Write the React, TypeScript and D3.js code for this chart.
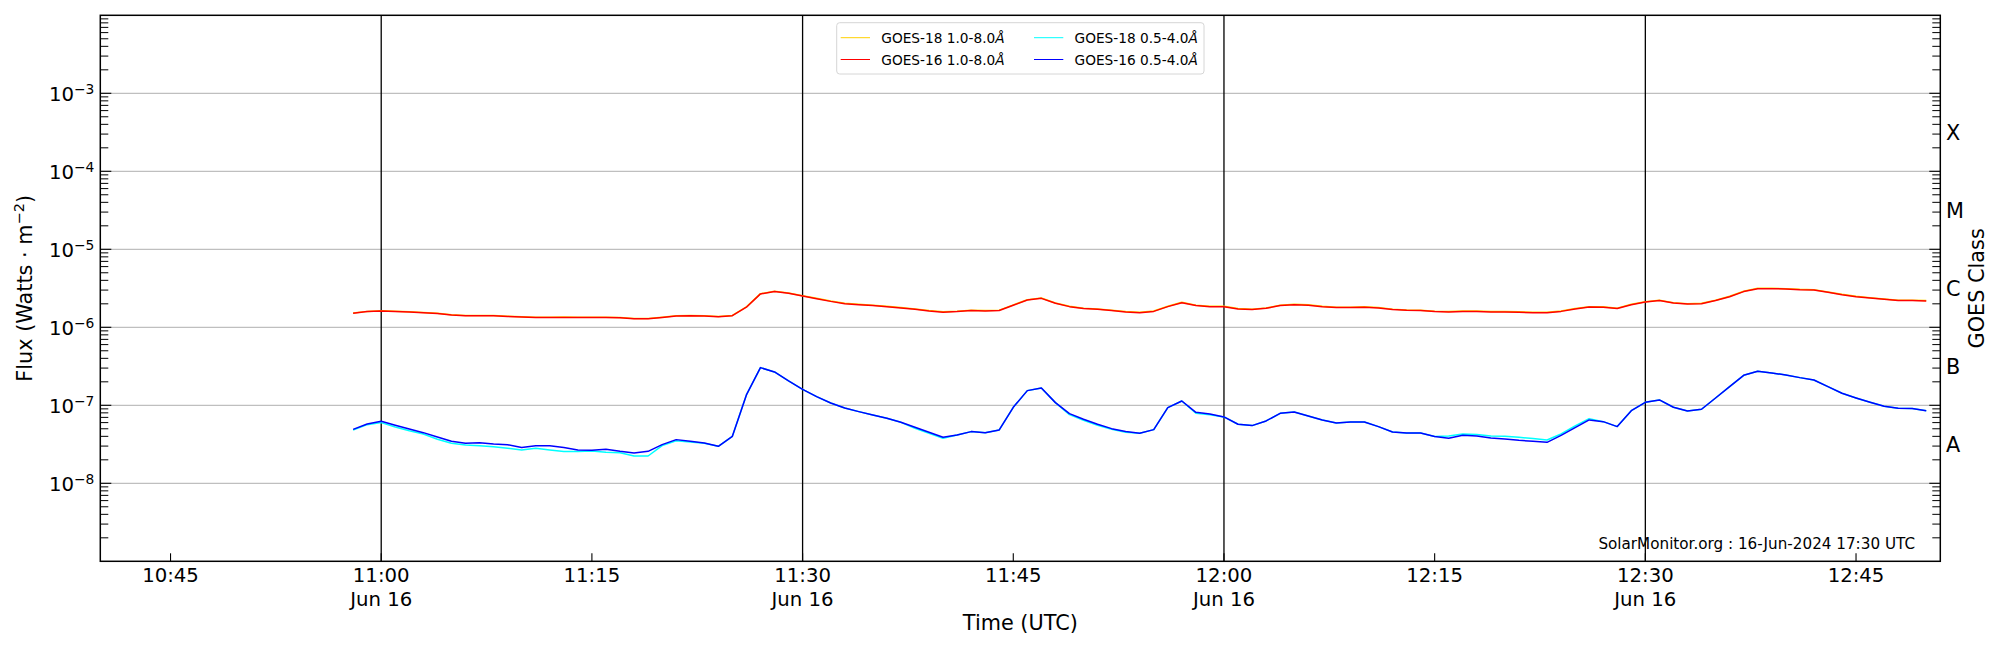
import React from "react";
import * as d3 from "d3";

// ---------- DATA ----------
const START_TIME = "2024-06-16T10:58:00Z"; // first sample, one sample per minute
const X_DOMAIN = ["2024-06-16T10:40:00Z", "2024-06-16T12:51:00Z"];

// GOES-16 1.0-8.0 Å (units of 1e-6 W/m^2)
const goes16Long = [
  1.51, 1.59, 1.62, 1.6, 1.57, 1.54, 1.5, 1.44, 1.41, 1.41,
  1.41, 1.38, 1.36, 1.34, 1.34, 1.34, 1.34, 1.34, 1.34, 1.33,
  1.29, 1.29, 1.34, 1.4, 1.41, 1.4, 1.37, 1.41, 1.81, 2.68,
  2.87, 2.73, 2.52, 2.33, 2.15, 2.01, 1.95, 1.9, 1.84, 1.77,
  1.7, 1.62, 1.56, 1.59, 1.64, 1.62, 1.64, 1.92, 2.24, 2.35,
  2.03, 1.84, 1.74, 1.7, 1.64, 1.57, 1.54, 1.6, 1.84, 2.07,
  1.9, 1.84, 1.84, 1.72, 1.69, 1.75, 1.9, 1.95, 1.92, 1.84,
  1.79, 1.79, 1.81, 1.77, 1.69, 1.65, 1.64, 1.59, 1.57, 1.6,
  1.6, 1.57, 1.57, 1.56, 1.54, 1.54, 1.6, 1.72, 1.82, 1.81,
  1.74, 1.95, 2.11, 2.2, 2.05, 1.99, 2.01, 2.2, 2.47, 2.87,
  3.13, 3.13, 3.1, 3.04, 3.01, 2.81, 2.62, 2.47, 2.38, 2.29,
  2.2, 2.2, 2.18,
];

// GOES-18 1.0-8.0 Å (units of 1e-6 W/m^2)
const goes18Long = [
  1.52, 1.6, 1.63, 1.61, 1.58, 1.55, 1.51, 1.45, 1.42, 1.42,
  1.42, 1.39, 1.37, 1.35, 1.35, 1.36, 1.35, 1.35, 1.35, 1.34,
  1.3, 1.3, 1.35, 1.41, 1.42, 1.41, 1.38, 1.42, 1.83, 2.7,
  2.9, 2.75, 2.54, 2.35, 2.17, 2.03, 1.97, 1.92, 1.86, 1.79,
  1.72, 1.64, 1.58, 1.61, 1.66, 1.64, 1.66, 1.94, 2.26, 2.37,
  2.05, 1.86, 1.76, 1.72, 1.66, 1.59, 1.56, 1.62, 1.86, 2.09,
  1.92, 1.86, 1.86, 1.74, 1.71, 1.77, 1.92, 1.97, 1.94, 1.86,
  1.81, 1.81, 1.83, 1.79, 1.71, 1.67, 1.66, 1.61, 1.59, 1.62,
  1.62, 1.59, 1.59, 1.58, 1.56, 1.56, 1.62, 1.74, 1.84, 1.83,
  1.76, 1.97, 2.13, 2.22, 2.07, 2.01, 2.03, 2.22, 2.5, 2.9,
  3.16, 3.16, 3.13, 3.07, 3.04, 2.84, 2.65, 2.5, 2.4, 2.31,
  2.22, 2.22, 2.2,
];

// GOES-16 0.5-4.0 Å (units of 1e-8 W/m^2)
const goes16Short = [
  4.92, 5.76, 6.23, 5.54, 4.97, 4.46, 3.93, 3.46, 3.26, 3.32,
  3.19, 3.13, 2.87, 3.04, 3.04, 2.87, 2.68, 2.65, 2.73, 2.57,
  2.45, 2.57, 3.13, 3.63, 3.46, 3.29, 2.98, 4.0, 13.57, 30.4,
  26.76, 20.51, 16.03, 12.92, 10.71, 9.24, 8.3, 7.52, 6.81, 6.05,
  5.22, 4.51, 3.89, 4.17, 4.6, 4.46, 4.83, 9.43, 15.42, 16.68,
  10.82, 7.82, 6.62, 5.71, 5.02, 4.6, 4.38, 4.88, 9.34, 11.36,
  8.13, 7.74, 7.09, 5.71, 5.49, 6.3, 7.9, 8.22, 7.3, 6.49,
  5.94, 6.11, 6.11, 5.33, 4.55, 4.42, 4.42, 3.97, 3.78, 4.12,
  4.04, 3.81, 3.7, 3.56, 3.46, 3.35, 4.12, 5.17, 6.49, 6.17,
  5.33, 8.54, 10.93, 11.71, 9.43, 8.46, 8.89, 12.42, 17.35, 24.24,
  27.29, 25.98, 24.48, 22.63, 21.13, 17.35, 14.25, 12.42, 10.93, 9.71,
  9.15, 9.07, 8.54,
];

// GOES-18 0.5-4.0 Å (units of 1e-8 W/m^2)
const goes18Short = [
  4.83, 5.65, 6.0, 5.28, 4.73, 4.29, 3.67, 3.26, 3.1, 3.04,
  2.95, 2.81, 2.68, 2.81, 2.68, 2.55, 2.55, 2.6, 2.5, 2.47,
  2.24, 2.24, 3.04, 3.52, 3.39, 3.26, 2.98, 4.0, 13.57, 30.4,
  26.76, 20.51, 16.03, 12.92, 10.71, 9.24, 8.3, 7.52, 6.81, 6.05,
  5.07, 4.38, 3.78, 4.17, 4.6, 4.46, 4.83, 9.43, 15.42, 16.68,
  10.82, 7.59, 6.42, 5.54, 4.92, 4.51, 4.38, 4.88, 9.34, 11.36,
  7.9, 7.59, 7.09, 5.71, 5.49, 6.3, 7.9, 8.22, 7.3, 6.49,
  5.94, 6.11, 6.11, 5.33, 4.55, 4.42, 4.42, 3.97, 4.04, 4.29,
  4.21, 4.04, 4.0, 3.89, 3.74, 3.59, 4.29, 5.43, 6.75, 6.17,
  5.33, 8.54, 10.93, 11.71, 9.43, 8.46, 8.89, 12.42, 17.35, 24.24,
  27.29, 25.98, 24.48, 22.63, 21.13, 17.35, 14.25, 12.42, 10.93, 9.71,
  9.15, 9.07, 8.54,
];

const series = [
  { name: "GOES-18 1.0-8.0", values: goes18Long, unit: 1e-6, color: "#ffd000" },
  { name: "GOES-16 1.0-8.0", values: goes16Long, unit: 1e-6, color: "#ff0000" },
  { name: "GOES-18 0.5-4.0", values: goes18Short, unit: 1e-8, color: "#00ffff" },
  { name: "GOES-16 0.5-4.0", values: goes16Short, unit: 1e-8, color: "#0000ff" },
];

const yTickExponents = [-3, -4, -5, -6, -7, -8];
const goesClasses = [
  { label: "X", exp: -3.5 },
  { label: "M", exp: -4.5 },
  { label: "C", exp: -5.5 },
  { label: "B", exp: -6.5 },
  { label: "A", exp: -7.5 },
];
const watermark = "SolarMonitor.org : 16-Jun-2024 17:30 UTC";

// ---------- LAYOUT ----------
const W = 2000;
const H = 650;
const L = 100.3;
const R = 1940.3;
const T = 15.3;
const B = 561.3;
const FONT = "DejaVu Sans, sans-serif";
const FS = 19.7;
const FSL = 20.8;

export default function App() {
  const x = d3.scaleUtc().domain(X_DOMAIN.map((d) => new Date(d))).range([L, R]);
  const y = d3.scaleLog().domain([1e-9, 1e-2]).range([B, T]);
  const t0 = new Date(START_TIME).getTime();

  const line = d3
    .line<{ t: Date; v: number }>()
    .x((d) => x(d.t))
    .y((d) => y(d.v));

  const xTicks = d3.utcMinute.every(15)!.range(x.domain()[0], x.domain()[1]);
  const vLines = xTicks.filter((t) => t.getUTCMinutes() % 30 === 0);
  const fmt = d3.utcFormat("%H:%M");

  const minor: number[] = [];
  for (let e = -9; e < -2; e++) for (let k = 2; k <= 9; k++) minor.push(k * Math.pow(10, e));

  const legendCols = [
    [series[0], series[1]],
    [series[2], series[3]],
  ];
  const colX = [840.7, 1034];
  const rowY = [37.7, 59.5];

  return (
    <svg
      width={W}
      height={H}
      style={{ position: "absolute", left: 0, top: 0, background: "#fff" }}
      fontFamily={FONT}
    >
      <rect x={0} y={0} width={W} height={H} fill="#fff" />
      {/* horizontal grid */}
      {yTickExponents.map((e) => (
        <line key={"g" + e} x1={L} x2={R} y1={y(Math.pow(10, e))} y2={y(Math.pow(10, e))} stroke="#b0b0b0" strokeWidth={1} />
      ))}
      {/* vertical black lines */}
      {vLines.map((t) => (
        <line key={"v" + t.getTime()} x1={x(t)} x2={x(t)} y1={T} y2={B} stroke="#000" strokeWidth={1.3} />
      ))}
      {/* data */}
      {series.map((s) => (
        <path
          key={s.name}
          d={line(s.values.map((v, i) => ({ t: new Date(t0 + i * 60000), v: v * s.unit }))) || ""}
          fill="none"
          stroke={s.color}
          strokeWidth={1.5}
          strokeLinejoin="round"
        />
      ))}
      {/* ticks left & right */}
      {yTickExponents.map((e) => {
        const yy = y(Math.pow(10, e));
        return (
          <g key={"yt" + e}>
            <line x1={L} x2={L + 11} y1={yy} y2={yy} stroke="#000" strokeWidth={1.1} />
            <line x1={R} x2={R - 11} y1={yy} y2={yy} stroke="#000" strokeWidth={1.1} />
            <text x={L - 6} y={yy + 7.7} textAnchor="end" fontSize={FS} fill="#000">
              10
              <tspan fontSize={13.8} dy={-7.5}>
                {"\u2212" + Math.abs(e)}
              </tspan>
            </text>
          </g>
        );
      })}
      {minor.map((v, i) => (
        <g key={"m" + i}>
          <line x1={L} x2={L + 8} y1={y(v)} y2={y(v)} stroke="#000" strokeWidth={1} />
          <line x1={R} x2={R - 8} y1={y(v)} y2={y(v)} stroke="#000" strokeWidth={1} />
        </g>
      ))}
      {/* x ticks */}
      {xTicks.map((t) => (
        <g key={"xt" + t.getTime()}>
          <line x1={x(t)} x2={x(t)} y1={B} y2={B - 8} stroke="#000" strokeWidth={1.1} />
          <text x={x(t)} y={581.7} textAnchor="middle" fontSize={FS} fill="#000">
            {fmt(t)}
          </text>
          {t.getUTCMinutes() % 30 === 0 && (
            <text x={x(t)} y={605.5} textAnchor="middle" fontSize={FS} fill="#000">
              {d3.utcFormat("%b %-d")(t)}
            </text>
          )}
        </g>
      ))}
      {/* spines */}
      <rect x={L} y={T} width={R - L} height={B - T} fill="none" stroke="#000" strokeWidth={1.5} />
      {/* class labels */}
      {goesClasses.map((c) => (
        <text key={c.label} x={1946} y={y(Math.pow(10, c.exp)) + 7.5} fontSize={FSL} fill="#000">
          {c.label}
        </text>
      ))}
      <text transform={`translate(1984,${(T + B) / 2}) rotate(-90)`} textAnchor="middle" fontSize={FSL} fill="#000">
        GOES Class
      </text>
      <text transform={`translate(32,${(T + B) / 2}) rotate(-90)`} textAnchor="middle" fontSize={FSL} fill="#000">
        {"Flux (Watts \u00b7 m"}
        <tspan fontSize={14.5} dy={-7.8}>
          {"\u22122"}
        </tspan>
        <tspan dy={7.8}>)</tspan>
      </text>
      <text x={(L + R) / 2} y={630} textAnchor="middle" fontSize={FSL} fill="#000">
        Time (UTC)
      </text>
      {/* watermark */}
      <text x={1915} y={549} textAnchor="end" fontSize={15.2} fill="#000">
        {watermark}
      </text>
      {/* legend */}
      <rect x={836.7} y={22.7} width={367.3} height={51.3} rx={3} fill="#fff" fillOpacity={0.8} stroke="#d6d6d6" strokeWidth={1} />
      {legendCols.map((col, ci) =>
        col.map((s, ri) => (
          <g key={s.name}>
            <line x1={colX[ci]} x2={colX[ci] + 29.3} y1={rowY[ri]} y2={rowY[ri]} stroke={s.color} strokeWidth={1} />
            <text x={colX[ci] + 40.6} y={rowY[ri] + 5} fontSize={13.7} fill="#000">
              {s.name}
              <tspan fontStyle="italic">Å</tspan>
            </text>
          </g>
        ))
      )}
    </svg>
  );
}
